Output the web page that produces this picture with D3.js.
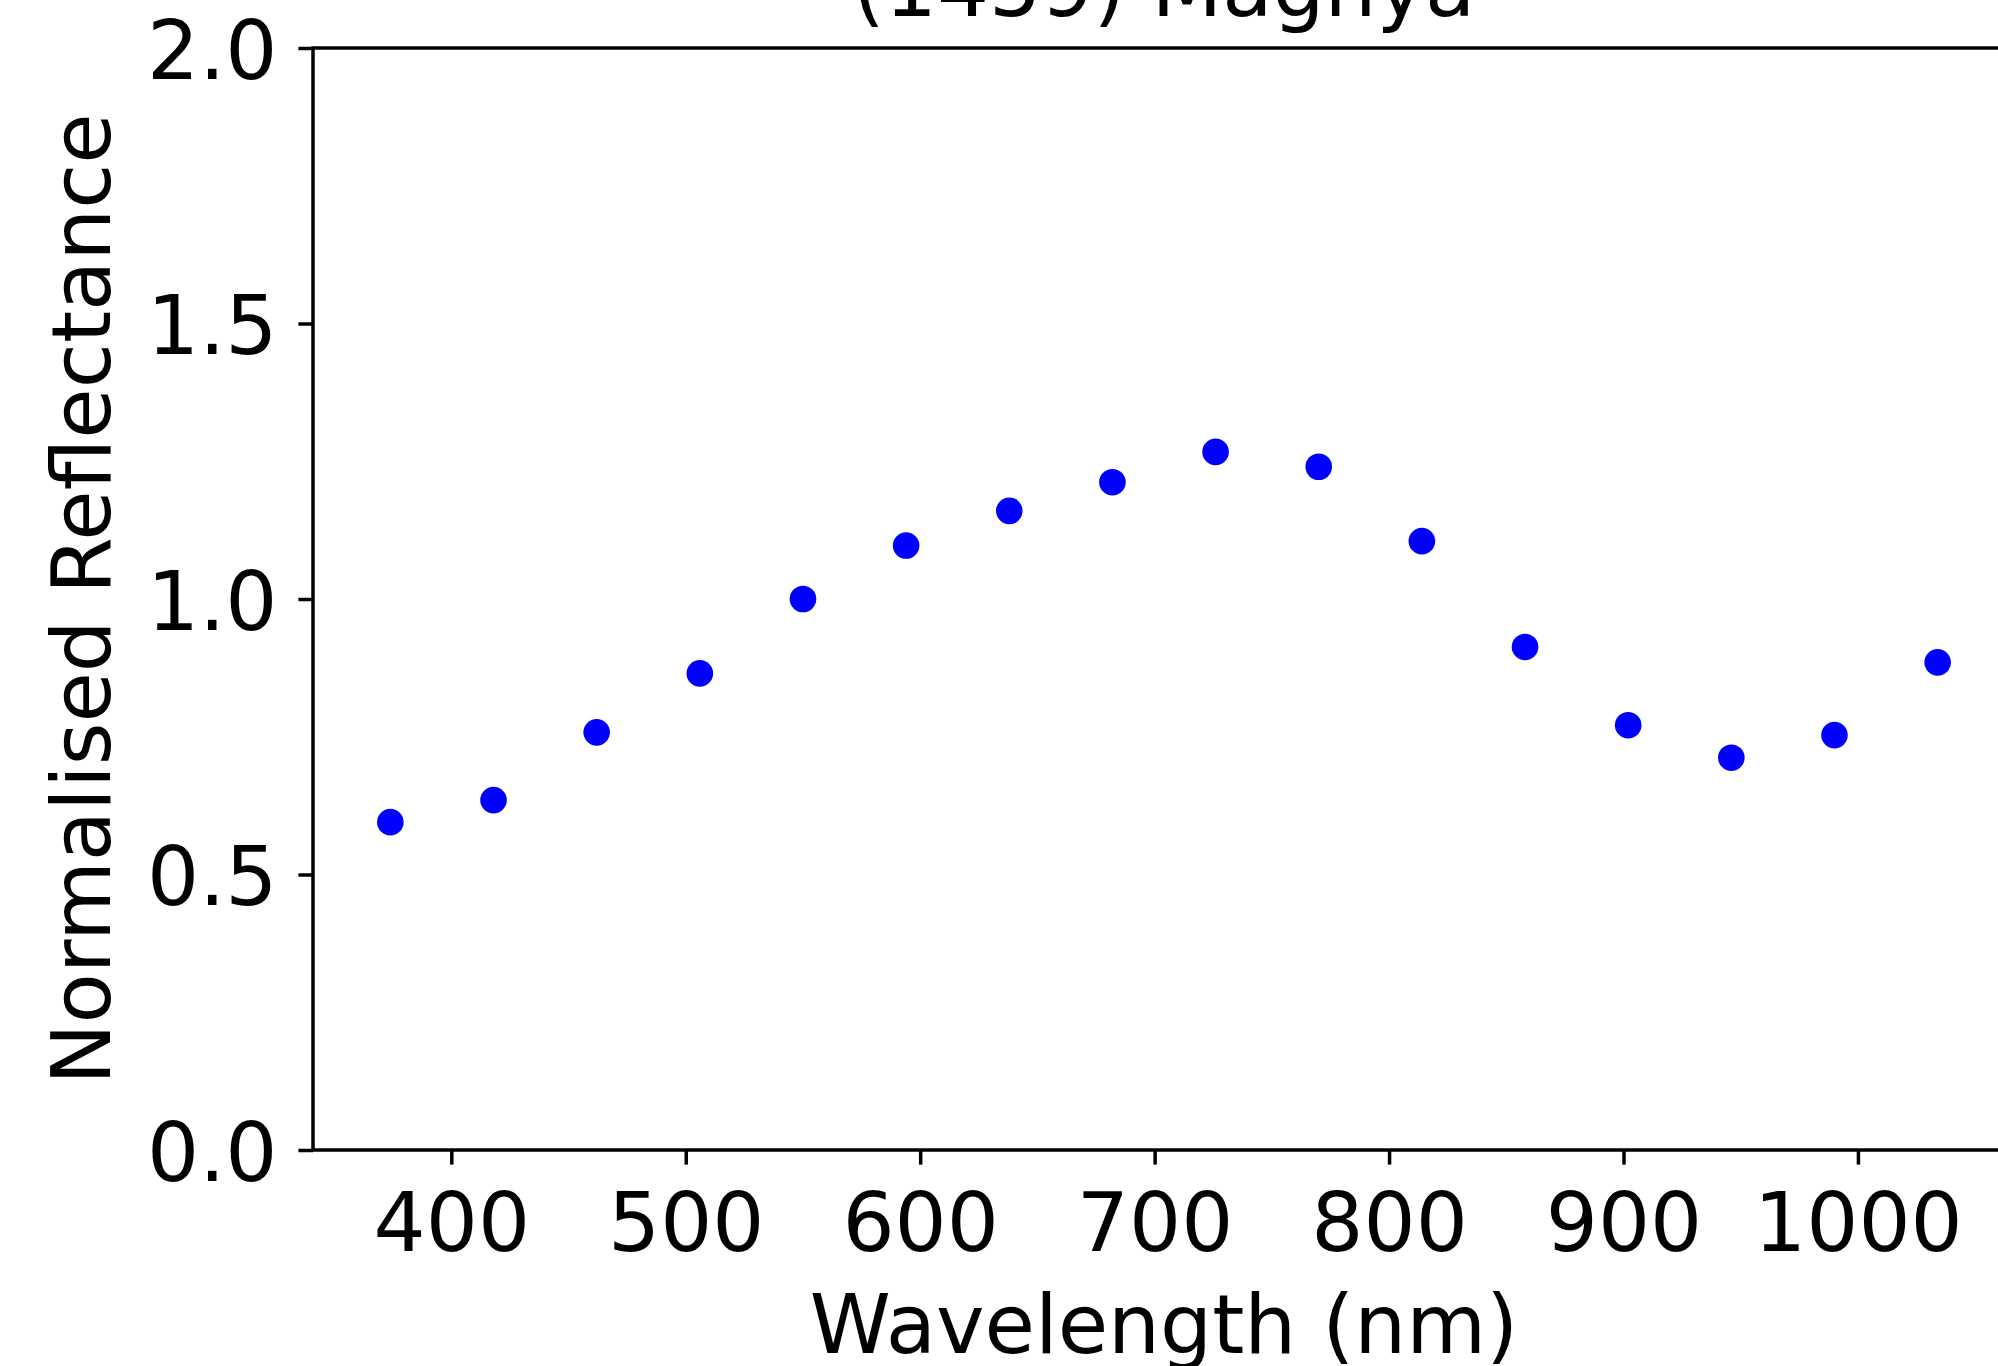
<!DOCTYPE html>
<html>
<head>
<meta charset="utf-8">
<script src="https://cdn.jsdelivr.net/npm/d3@7.9.0/dist/d3.min.js"></script>
<style>
  body { margin: 0; background: #fff; }
  svg { display: block; font-family: "DejaVu Sans", sans-serif; }
  .axis text { font-size: 82px; fill: #000; }
  .axis line { stroke: #000; stroke-width: 3.5px; }
</style>
</head>
<body>
<svg width="1998" height="1366"></svg>
<script>
// spectrum of (1459) Magnya
const wavelengths = [374, 418, 462, 506, 550, 594, 638, 682, 726, 770, 814, 858, 902, 946, 990, 1034];
const reflectance = [0.595, 0.635, 0.758, 0.865, 1.0, 1.097, 1.160, 1.212, 1.267, 1.240, 1.105, 0.913, 0.771, 0.712, 0.753, 0.885];
const xTicks = [400, 500, 600, 700, 800, 900, 1000];
const yTicks = [0.0, 0.5, 1.0, 1.5, 2.0];

const title = '(1459) Magnya';
const xLabel = 'Wavelength (nm)';
const yLabel = 'Normalised Reflectance';

// plot box (right side runs past the canvas, like the original)
const plotLeft = 313, plotTop = 48, plotRight = 2015, plotBottom = 1150;
const svg = d3.select('svg');

let x = d3.scaleLinear().domain([341, 1067]).range([plotLeft, plotRight]);
let y = d3.scaleLinear().domain([0, 2]).range([plotBottom, plotTop]);

let data = wavelengths.map((w, i) => ({ w: w, r: reflectance[i] }));

// x axis
let xAxis = svg.append('g')
    .attr('class', 'axis')
    .attr('transform', `translate(0,${plotBottom})`)
    .call(d3.axisBottom(x).tickValues(xTicks).tickSizeInner(14.6).tickSizeOuter(0).tickPadding(28)
        .tickFormat(d3.format('d')));
xAxis.select('.domain').remove();
xAxis.attr('font-family', null).attr('font-size', null);

// y axis
let yAxis = svg.append('g')
    .attr('class', 'axis')
    .attr('transform', `translate(${plotLeft},0)`)
    .call(d3.axisLeft(y).tickValues(yTicks).tickSizeInner(14.6).tickSizeOuter(0).tickPadding(21)
        .tickFormat(d3.format('.1f')));
yAxis.select('.domain').remove();
yAxis.attr('font-family', null).attr('font-size', null);
yAxis.selectAll('text').attr('dy', '0.37em');

// frame
svg.append('rect')
    .attr('x', plotLeft).attr('y', plotTop)
    .attr('width', plotRight - plotLeft).attr('height', plotBottom - plotTop)
    .attr('fill', 'none')
    .attr('stroke', '#000')
    .attr('stroke-width', 3.5);

// points
svg.append('g')
    .selectAll('circle')
    .data(data)
    .join('circle')
    .attr('cx', (d) => x(d.w))
    .attr('cy', (d) => y(d.r))
    .attr('r', 13.3)
    .attr('fill', '#0000ff');

// labels
svg.append('text')
    .attr('x', (plotLeft + plotRight) / 2)
    .attr('y', 16)
    .attr('text-anchor', 'middle')
    .attr('font-size', 82)
    .text(title);

svg.append('text')
    .attr('x', (plotLeft + plotRight) / 2)
    .attr('y', 1353)
    .attr('text-anchor', 'middle')
    .attr('font-size', 82)
    .text(xLabel);

svg.append('text')
    .attr('transform', `translate(110,${(plotTop + plotBottom) / 2}) rotate(-90)`)
    .attr('text-anchor', 'middle')
    .attr('font-size', 82)
    .text(yLabel);
</script>
</body>
</html>
